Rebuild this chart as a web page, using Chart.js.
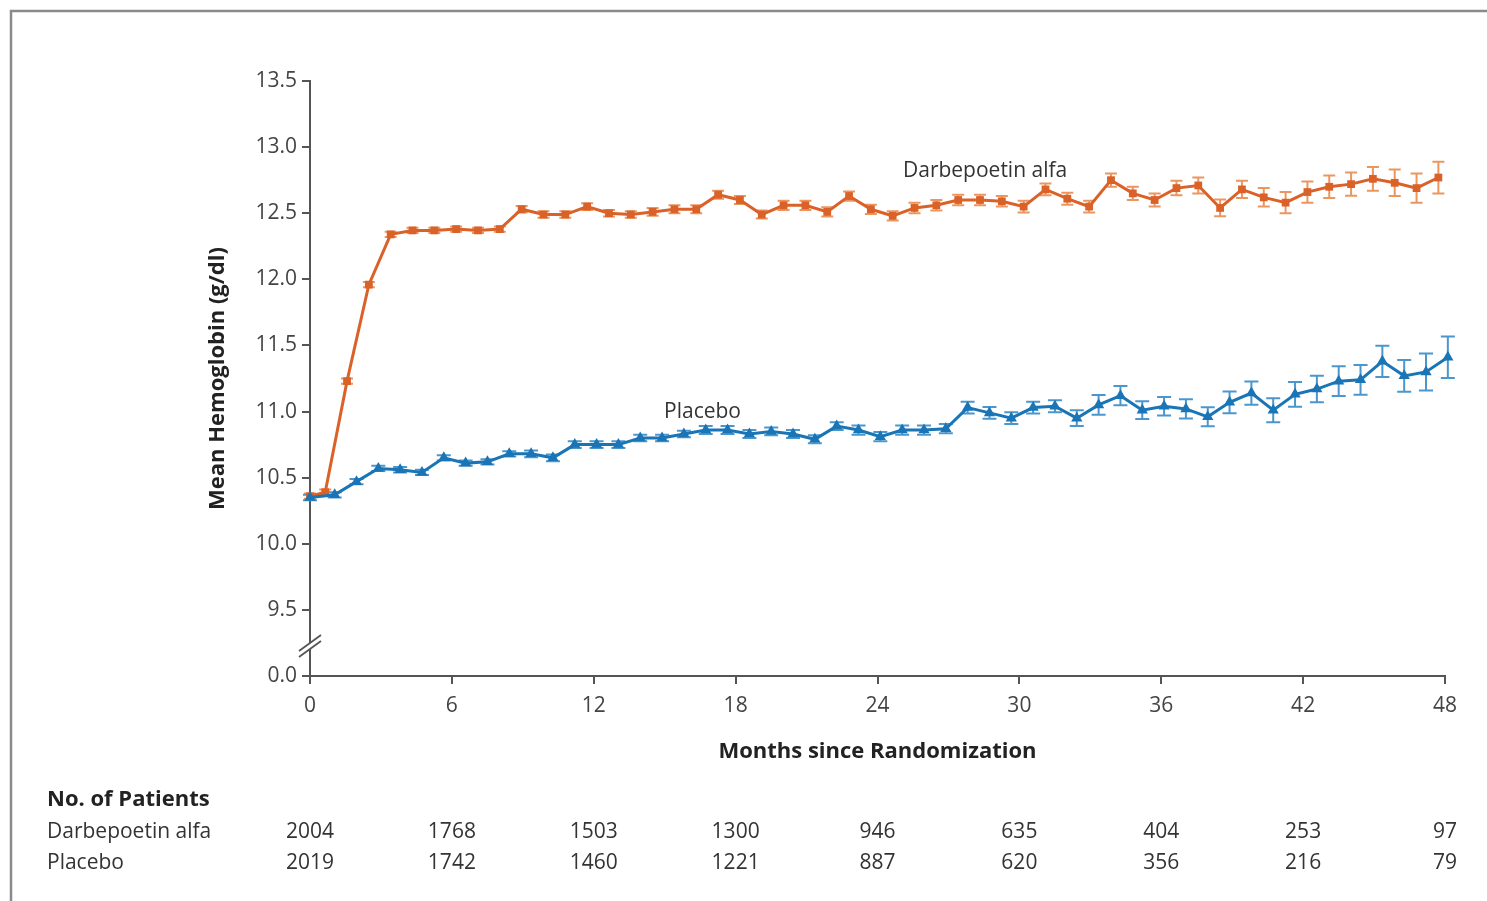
<!DOCTYPE html>
<html>
<head>
<meta charset="utf-8">
<script src="https://cdn.jsdelivr.net/npm/chart.js@4.4.1/dist/chart.umd.min.js"></script>
<style>
  html, body { margin: 0; padding: 0; background: #ffffff; }
  canvas { display: block; }
</style>
</head>
<body>
<canvas id="chart" width="1487" height="901"></canvas>
<script>
// ---- Data ----
// visit weeks (every 4 weeks over 208 weeks = 48 months)
const visitWeeks = [0,4,8,12,16,20,24,28,32,36,40,44,48,52,56,60,64,68,72,76,80,84,88,92,96,100,104,108,112,116,120,124,128,132,136,140,144,148,152,156,160,164,168,172,176,180,184,188,192,196,200,204,208];

const darbepoetin = [10.36,10.39,11.23,11.96,12.34,12.37,12.37,12.38,12.37,12.38,
  12.53,12.49,12.49,12.55,12.50,12.49,12.51,12.53,12.53,12.64,
  12.60,12.49,12.56,12.56,12.51,12.63,12.53,12.48,12.54,12.56,
  12.60,12.60,12.59,12.55,12.68,12.61,12.55,12.75,12.65,12.60,
  12.69,12.71,12.54,12.68,12.62,12.58,12.66,12.70,12.72,12.76,
  12.73,12.69,12.77];

const darbepoetinErr = [0.02,0.02,0.02,0.02,0.02,0.02,0.02,0.02,0.02,0.02,
  0.025,0.025,0.025,0.025,0.025,0.025,0.03,0.03,0.03,0.03,
  0.03,0.03,0.035,0.035,0.035,0.035,0.035,0.035,0.04,0.04,
  0.04,0.04,0.04,0.045,0.045,0.045,0.045,0.05,0.05,0.05,
  0.055,0.06,0.063,0.065,0.07,0.08,0.08,0.085,0.088,0.09,
  0.10,0.11,0.12];

const placebo = [10.35,10.37,10.47,10.57,10.56,10.54,10.65,10.61,10.62,10.68,
  10.68,10.65,10.75,10.75,10.75,10.80,10.80,10.83,10.86,10.86,
  10.83,10.85,10.83,10.79,10.89,10.86,10.81,10.86,10.86,10.87,
  11.03,10.99,10.95,11.03,11.04,10.95,11.05,11.12,11.01,11.04,
  11.02,10.96,11.07,11.14,11.01,11.13,11.17,11.23,11.24,11.38,
  11.27,11.30,11.41];

const placeboErr = [0.02,0.02,0.02,0.02,0.02,0.02,0.02,0.02,0.02,0.02,
  0.025,0.025,0.025,0.025,0.025,0.025,0.025,0.025,0.03,0.03,
  0.03,0.03,0.03,0.03,0.03,0.035,0.035,0.035,0.035,0.035,
  0.045,0.045,0.045,0.045,0.045,0.06,0.075,0.073,0.067,0.07,
  0.073,0.072,0.082,0.088,0.09,0.094,0.10,0.113,0.113,0.118,
  0.12,0.14,0.157];

// small horizontal dodge (months) between the two series after baseline
const darbepoetinDodge = -0.28;
const placeboDodge = 0.12;

const patientMonths = [0,6,12,18,24,30,36,42,48];
const darbepoetinPatients = [2004,1768,1503,1300,946,635,404,253,97];
const placeboPatients = [2019,1742,1460,1221,887,620,356,216,79];

const seriesNames = ['Darbepoetin alfa', 'Placebo'];
const xTitle = 'Months since Randomization';
const yTitle = 'Mean Hemoglobin (g/dl)';
const tableTitle = 'No. of Patients';

// ---- styles ----
const FONT = "'Open Sans', 'Noto Sans', sans-serif";
const ORANGE = 'rgb(218,98,40)';
const ORANGE_ERR = 'rgb(236,150,95)';
const BLUE = 'rgb(26,117,182)';
const BLUE_ERR = 'rgb(75,150,205)';
const AXIS = '#555555';

const months = visitWeeks.map(w => w * 12 / 52);
const toPoints = (vals, dodge) => vals.map((v, i) => ({x: i === 0 ? months[i] : months[i] + dodge, y: v}));

const errorBarPlugin = {
  id: 'errorBars',
  beforeDatasetsDraw(chart) {
    const ctx = chart.ctx;
    const ys = chart.scales.y;
    chart.data.datasets.forEach((ds, di) => {
      const meta = chart.getDatasetMeta(di);
      ctx.save();
      ctx.strokeStyle = ds.errColor;
      ctx.lineWidth = 2;
      meta.data.forEach((pt, j) => {
        const v = ds.data[j].y, e = ds.errors[j];
        const yt = ys.getPixelForValue(v + e), yb = ys.getPixelForValue(v - e);
        const x = pt.x, hw = ds.capHalf;
        ctx.beginPath();
        ctx.moveTo(x, yt); ctx.lineTo(x, yb);
        ctx.moveTo(x - hw, yt); ctx.lineTo(x + hw, yt);
        ctx.moveTo(x - hw, yb); ctx.lineTo(x + hw, yb);
        ctx.stroke();
      });
      ctx.restore();
    });
  }
};

const decorPlugin = {
  id: 'decor',
  beforeDraw(chart) {
    const ctx = chart.ctx;
    ctx.save();
    ctx.fillStyle = '#ffffff';
    ctx.fillRect(0, 0, chart.width, chart.height);
    ctx.strokeStyle = '#8a8a8a';
    ctx.lineWidth = 2.5;
    ctx.beginPath();
    ctx.moveTo(11, chart.height); ctx.lineTo(11, 11); ctx.lineTo(chart.width, 11);
    ctx.stroke();
    ctx.restore();
  },
  afterDraw(chart) {
    const ctx = chart.ctx;
    const xs = chart.scales.x, ys = chart.scales.y;
    ctx.save();
    // axis break marks
    const bx = xs.getPixelForValue(0);
    const by = ys.getPixelForValue(9.25);
    ctx.fillStyle = '#ffffff';
    ctx.beginPath();
    ctx.moveTo(bx - 11, by + 8); ctx.lineTo(bx + 11, by - 8);
    ctx.lineTo(bx + 11, by - 2); ctx.lineTo(bx - 11, by + 14);
    ctx.closePath(); ctx.fill();
    ctx.strokeStyle = AXIS; ctx.lineWidth = 1.8;
    ctx.beginPath();
    ctx.moveTo(bx - 11, by + 8); ctx.lineTo(bx + 11, by - 8);
    ctx.moveTo(bx - 11, by + 14); ctx.lineTo(bx + 11, by - 2);
    ctx.stroke();

    // series labels
    ctx.fillStyle = '#333333';
    ctx.font = `21px ${FONT}`;
    ctx.textAlign = 'center';
    ctx.textBaseline = 'middle';
    ctx.fillText(seriesNames[0], xs.getPixelForValue(28.55), ys.getPixelForValue(12.82));
    ctx.fillText(seriesNames[1], xs.getPixelForValue(16.6), ys.getPixelForValue(11.0));

    // number at risk table
    ctx.textAlign = 'left';
    ctx.font = `bold 22px ${FONT}`;
    ctx.fillStyle = '#222222';
    ctx.fillText(tableTitle, 47, 800);
    ctx.font = `21px ${FONT}`;
    ctx.fillStyle = '#333333';
    ctx.fillText(seriesNames[0], 47, 832);
    ctx.fillText(seriesNames[1], 47, 863);
    ctx.textAlign = 'center';
    patientMonths.forEach((m, i) => {
      const px = xs.getPixelForValue(m);
      ctx.fillText(String(darbepoetinPatients[i]), px, 832);
      ctx.fillText(String(placeboPatients[i]), px, 863);
    });
    ctx.restore();
  }
};

new Chart(document.getElementById('chart'), {
  type: 'line',
  data: {
    datasets: [
      {
        label: seriesNames[0],
        data: toPoints(darbepoetin, darbepoetinDodge),
        errors: darbepoetinErr,
        errColor: ORANGE_ERR,
        capHalf: 6,
        borderColor: ORANGE,
        backgroundColor: ORANGE,
        borderWidth: 3,
        pointStyle: 'rect',
        pointRadius: 5.5,
        pointBorderWidth: 0,
        tension: 0,
        clip: false,
        order: 1
      },
      {
        label: seriesNames[1],
        data: toPoints(placebo, placeboDodge),
        errors: placeboErr,
        errColor: BLUE_ERR,
        capHalf: 7,
        borderColor: BLUE,
        backgroundColor: BLUE,
        borderWidth: 3,
        pointStyle: 'triangle',
        pointRadius: 6.5,
        pointBorderWidth: 0,
        tension: 0,
        clip: false,
        order: 0
      }
    ]
  },
  options: {
    responsive: false,
    animation: false,
    devicePixelRatio: 1,
    layout: { padding: { left: 0, top: 81, right: 42, bottom: 0 } },
    plugins: { legend: { display: false }, tooltip: { enabled: false } },
    scales: {
      x: {
        type: 'linear',
        min: 0, max: 48,
        afterFit(scale) { scale.height = 225; },
        ticks: { stepSize: 6, color: '#444444', font: { family: FONT, size: 21 }, padding: 9 },
        grid: { display: true, drawOnChartArea: false, drawTicks: true, tickLength: 8, color: AXIS, lineWidth: 2 },
        border: { display: true, color: AXIS, width: 2 },
        title: { display: true, text: xTitle, color: '#222222', font: { family: FONT, size: 22, weight: 'bold' }, padding: { top: 0, bottom: 136 } }
      },
      y: {
        type: 'linear',
        min: 9, max: 13.5,
        afterFit(scale) { scale.width = 310; },
        ticks: {
          stepSize: 0.5, color: '#444444', font: { family: FONT, size: 21 }, padding: 5,
          callback: v => (Math.abs(v - 9) < 1e-6 ? '0.0' : Number(v).toFixed(1))
        },
        grid: { display: true, drawOnChartArea: false, drawTicks: true, tickLength: 8, color: AXIS, lineWidth: 2 },
        border: { display: true, color: AXIS, width: 2 },
        title: { display: true, text: yTitle, color: '#222222', font: { family: FONT, size: 22, weight: 'bold' }, padding: { top: 205, bottom: 0 } }
      }
    }
  },
  plugins: [errorBarPlugin, decorPlugin]
});
</script>
</body>
</html>
